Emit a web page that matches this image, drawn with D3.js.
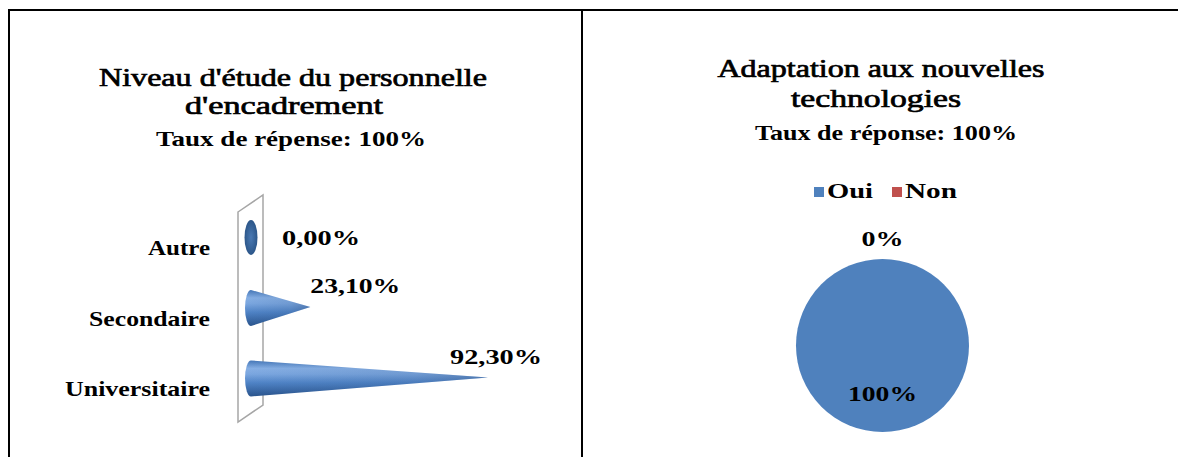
<!DOCTYPE html>
<html lang="fr">
<head>
<meta charset="utf-8">
<title>Niveau d'étude et adaptation aux nouvelles technologies</title>
<script src="https://cdn.jsdelivr.net/npm/d3@7/dist/d3.min.js"></script>
<style>
  html, body { margin: 0; padding: 0; background: #ffffff; }
  svg { display: block; }
</style>
</head>
<body>
<svg id="chart" width="1178" height="457"></svg>
<script>
// ---- Data ---------------------------------------------------------------
// Niveau d'étude du personnel d'encadrement (%)
const niveauCategories = ["Autre", "Secondaire", "Universitaire"];
const niveauValues     = [0, 23.1, 92.3];

// Adaptation aux nouvelles technologies (%)
const adaptationCategories = ["Oui", "Non"];
const adaptationValues     = [100, 0];

// Titles
const niveauTitle     = ["Niveau d'étude du personnelle", "d'encadrement"];
const niveauSubtitle  = "Taux de répense: 100%";
const adaptationTitle    = ["Adaptation aux nouvelles", "technologies"];
const adaptationSubtitle = "Taux de réponse: 100%";

// ---- Helpers --------------------------------------------------------------
const fr = d3.formatLocale({ decimal: ",", thousands: " ", grouping: [3], currency: ["", " €"] });
const fmtNiveau = v => fr.format(".2%")(v / 100);
const fmtAdapt  = v => fr.format(".0%")(v / 100);

const FONT = "'Liberation Serif', 'Times New Roman', Times, serif";

const svg = d3.select("#chart");
const defs = svg.append("defs");

// Text fitted to a given rendered width
function label(g, txt, x, y, opts) {
  const t = g.append("text")
    .attr("x", x).attr("y", y)
    .attr("text-anchor", opts.anchor || "middle")
    .attr("font-family", FONT)
    .attr("font-size", opts.size)
    .attr("font-weight", opts.weight || "bold")
    .attr("fill", "#000")
    .text(txt);
  if (opts.width) t.attr("textLength", opts.width).attr("lengthAdjust", "spacingAndGlyphs");
  if (opts.stroke) t.attr("stroke", "#000").attr("stroke-width", opts.stroke);
  return t;
}

// ---- Table frame ---------------------------------------------------------
const frame = svg.append("g").attr("stroke", "#000").attr("stroke-width", 2);
frame.append("line").attr("x1", 8).attr("x2", 1178).attr("y1", 10).attr("y2", 10);
frame.append("line").attr("x1", 9).attr("x2", 9).attr("y1", 9).attr("y2", 457);
frame.append("line").attr("x1", 582).attr("x2", 582).attr("y1", 9).attr("y2", 457);

// ---- Left panel: 3D cone bar chart --------------------------------------
const left = svg.append("g");

label(left, niveauTitle[0], 293, 86, { size: 25, weight: "normal", width: 388, stroke: 0.7 });
label(left, niveauTitle[1], 284, 114, { size: 25, weight: "normal", width: 198, stroke: 0.7 });
label(left, niveauSubtitle, 291, 146, { size: 21, width: 270 });

const x = d3.scaleLinear().domain([0, 100]).range([251, 507.8]);
const y = d3.scalePoint().domain(niveauCategories).range([237.5, 378.5]);

// Back wall (category axis plane)
left.append("path")
  .attr("d", "M238,212 L263,195 L263,405 L238,422 Z")
  .attr("fill", "#ffffff")
  .attr("stroke", "#a6a6a6")
  .attr("stroke-width", 1.5);

// Cone shading
const coneGrad = defs.append("linearGradient")
  .attr("id", "coneGrad").attr("x1", 0).attr("y1", 0).attr("x2", 0).attr("y2", 1);
[["0%", "#4577b8"], ["22%", "#86afe4"], ["38%", "#7aa6df"], ["62%", "#4f83c6"], ["100%", "#2a548c"]]
  .forEach(([o, c]) => coneGrad.append("stop").attr("offset", o).attr("stop-color", c));

const tipShade = defs.append("linearGradient")
  .attr("id", "tipShade").attr("x1", 0).attr("y1", 0).attr("x2", 1).attr("y2", 0);
tipShade.append("stop").attr("offset", "0%").attr("stop-color", "#1f3f6e").attr("stop-opacity", 0);
tipShade.append("stop").attr("offset", "70%").attr("stop-color", "#1f3f6e").attr("stop-opacity", 0.12);
tipShade.append("stop").attr("offset", "100%").attr("stop-color", "#1f3f6e").attr("stop-opacity", 0.35);

const capGrad = defs.append("radialGradient").attr("id", "capGrad");
capGrad.append("stop").attr("offset", "0%").attr("stop-color", "#4a79b3");
capGrad.append("stop").attr("offset", "100%").attr("stop-color", "#2c5689");

const baseRx = 6, baseRy = 18;
const cones = left.append("g");

niveauCategories.forEach((cat, i) => {
  const v = niveauValues[i];
  const cx = x(0), cy = y(cat), tip = x(v);
  if (v === 0) {
    cones.append("ellipse")
      .attr("cx", cx).attr("cy", cy).attr("rx", baseRx + 0.5).attr("ry", baseRy - 0.5)
      .attr("fill", "url(#capGrad)");
    return;
  }
  const d = `M${cx},${cy - baseRy} L${tip},${cy - 1} L${cx},${cy + baseRy} ` +
            `A${baseRx},${baseRy} 0 0 1 ${cx},${cy - baseRy} Z`;
  cones.append("path").attr("d", d).attr("fill", "url(#coneGrad)");
  cones.append("path").attr("d", d).attr("fill", "url(#tipShade)");
});

// Category labels
niveauCategories.forEach(cat => {
  label(left, cat, 210, y(cat) + 17.5, { size: 21, anchor: "end",
    width: { "Autre": 62, "Secondaire": 121, "Universitaire": 145 }[cat] });
});

// Value labels
const valueNudge = { "Autre": [31, 7], "Secondaire": [0, -15], "Universitaire": [-38, -15] };
const valueWidth = { "Autre": 78, "Secondaire": 90, "Universitaire": 92 };
niveauCategories.forEach((cat, i) => {
  const v = niveauValues[i];
  label(left, fmtNiveau(v), x(v) + valueNudge[cat][0], y(cat) + valueNudge[cat][1],
    { size: 22, anchor: "start", width: valueWidth[cat] });
});

// ---- Right panel: pie chart -------------------------------------------------
const right = svg.append("g");

label(right, adaptationTitle[0], 881, 77, { size: 25, weight: "normal", width: 327, stroke: 0.7 });
label(right, adaptationTitle[1], 876, 107, { size: 25, weight: "normal", width: 170, stroke: 0.7 });
label(right, adaptationSubtitle, 886, 140, { size: 21, width: 262 });

const color = d3.scaleOrdinal().domain(adaptationCategories).range(["#4f81bd", "#c0504d"]);

// Legend
const legend = right.append("g");
const legendPos = { "Oui": 814, "Non": 892 };
const legendW = { "Oui": 46, "Non": 52 };
adaptationCategories.forEach(cat => {
  legend.append("rect")
    .attr("x", legendPos[cat]).attr("y", 187).attr("width", 10).attr("height", 10)
    .attr("fill", color(cat));
  label(legend, cat, legendPos[cat] + 13, 198, { size: 20, anchor: "start", width: legendW[cat] });
});

// Pie
const r = 86.5;
const pieG = right.append("g").attr("transform", "translate(882.5,345.5)");
const arcs = d3.pie().sort(null).value(d => d.value)(
  adaptationCategories.map((c, i) => ({ cat: c, value: adaptationValues[i] })));
const arc = d3.arc().innerRadius(0).outerRadius(r);

pieG.selectAll("path.slice")
  .data(arcs)
  .join("path")
  .attr("class", "slice")
  .attr("d", arc)
  .attr("fill", d => color(d.data.cat));

// Labels: inside for the full slice, outside for an empty one
const inner = d3.arc().innerRadius(r * 0.56).outerRadius(r * 0.56);
const outer = d3.arc().innerRadius(r * 1.24).outerRadius(r * 1.24);
arcs.forEach(d => {
  const [lx, ly] = (d.data.value > 0 ? inner : outer).centroid(d);
  label(pieG, fmtAdapt(d.data.value), lx, ly + 7.5,
    { size: 22, width: d.data.value > 0 ? 69 : 42 });
});
</script>
</body>
</html>
